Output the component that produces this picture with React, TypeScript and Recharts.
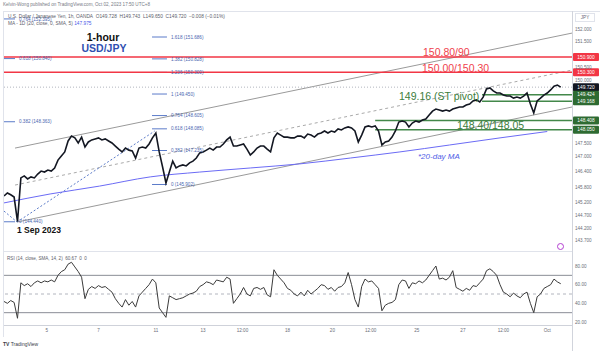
import { ComposedChart, Line, XAxis, YAxis, ReferenceLine } from "recharts"

// hourly closes sampled every 3 bars, 1 Sep -> 2 Oct 2023
const closes = [
  145.45, 145.57, 145.5, 145.41, 144.45, 146.16, 146.24, 146.12, 146.2, 146.16,
  146.31, 146.43, 146.39, 146.47, 146.43, 146.55, 146.86, 147.02, 147.18, 147.61,
  147.8, 147.73, 147.53, 147.76, 147.37, 147.57, 147.65, 147.69, 147.73, 147.65,
  147.69, 147.61, 147.53, 147.41, 147.29, 147.18, 147.33, 147.25, 147.22, 146.94,
  147.33, 147.37, 147.33, 147.49, 147.73, 147.92, 147.18, 146.59, 145.96, 146.39,
  146.82, 146.55, 146.63, 146.67, 146.63, 146.75, 146.82, 146.94, 147.14, 147.18,
  147.25, 147.33, 147.25, 147.37, 147.37, 147.49, 147.65, 147.76, 147.41, 147.41,
  147.45, 147.49, 147.29, 147.06, 147.18, 147.33, 147.41, 147.41, 147.29, 147.18,
  147.73, 147.92, 147.84, 147.76, 147.76, 147.73, 147.73, 147.8, 147.8, 147.73,
  147.88, 147.84, 147.76, 147.88, 147.92, 148.0, 147.92, 148.0, 147.96, 148.08,
  148.04, 148.12, 148.16, 148.12, 148.0, 147.57, 147.84, 148.16, 148.2, 148.16,
  148.2, 148.0, 147.45, 147.57, 147.61, 147.76, 148.0, 148.35, 148.39, 148.35,
  148.16, 148.31, 148.39, 148.35, 148.43, 148.47, 148.63, 148.78, 148.86, 148.82,
  148.78, 148.82, 148.78, 148.86, 148.9, 148.94, 148.94, 149.02, 149.06, 149.18,
  149.22, 149.14, 149.33, 149.65, 149.69, 149.57, 149.49, 149.49, 149.41, 149.37,
  149.37, 149.29, 149.33, 149.29, 149.37, 149.49, 149.06, 148.71, 149.18, 149.29,
  149.41, 149.49, 149.61, 149.76, 149.8, 149.72,
]

const rsiValues = [
  42, 40, 43, 41, 24, 62, 59, 61, 58, 62,
  64, 62, 64, 63, 65, 63, 70, 74, 76, 82,
  84, 79, 74, 68, 45, 55, 58, 56, 59, 57,
  58, 55, 52, 45, 40, 36, 44, 38, 42, 36,
  48, 52, 56, 60, 66, 62, 35, 30, 25, 48,
  46, 44, 45, 46, 48, 50, 51, 53, 58, 60,
  63, 62, 60, 65, 64, 63, 68, 66, 40, 45,
  50, 57, 50, 48, 56, 57, 55, 57, 49, 47,
  76, 70, 66, 62, 56, 54, 50, 48, 52, 48,
  54, 50, 53, 56, 60, 59, 55, 57, 53, 57,
  58, 62, 73, 60, 44, 36, 58, 66, 63, 64,
  60, 56, 32, 38, 40, 41, 44, 60, 65, 64,
  56, 62, 61, 64, 62, 65, 70, 75, 80, 66,
  67, 65, 68, 75, 57, 55, 53, 56, 54, 59,
  58, 62, 66, 75, 77, 74, 70, 60, 52, 50,
  47, 51, 48, 46, 50, 52, 40, 30, 47, 50,
  56, 58, 60, 66, 63, 61,
]

const BAR_HOURS = 3
const LAST_HOUR = 505

const timeTicks = [38, 84, 135, 177, 212, 252, 292, 326, 367, 408, 444, 483]
const timeLabels = ["5", "7", "11", "13", "12:00", "18", "20", "12:00", "25", "27", "12:00", "Oct"]

const priceTicks = [143.7, 144.2, 144.7, 145.2, 145.8, 146.4, 147, 147.5, 150, 150.5, 151.5, 152]
const rsiTicks = [20, 40, 60, 80]

// daily 20 SMA projected on the hourly chart
const maHours = [0, 41, 85, 130, 174, 219, 263, 308, 352, 396, 441, 483]
const maValues = [145.18, 145.53, 145.84, 146.2, 146.39, 146.55, 146.71, 146.94, 147.18, 147.45, 147.73, 147.98]

const fibLeftRatios = ["0.764", "0.618", "0.382", "0"]
const fibLeftPrices = [152.395, 150.84, 148.363, 144.44]
const fibRightRatios = ["1.618", "1.382", "1.236", "1", "0.764", "0.618", "0.382", "0"]
const fibRightPrices = [151.686, 150.828, 150.3, 149.45, 148.605, 148.085, 147.235, 145.902]

// trend channel anchors: [hour, price]
const channelUpper = [[9.8, 147.33], [505, 151.84]]
const channelMid = [[9.8, 145.88], [505, 150.39]]
const channelLower = [[11.6, 144.43], [505, 148.94]]
const fibTrend = [[0, 144.86], [11.6, 144.43], [134, 148.0]]

const resistanceLevels = [150.9, 150.3]
const pivotLevels = [149.424, 149.168]
const supportLevels = [148.408, 148.05]
const lastPrice = 149.72

const priceData = closes.map((close, i) => ({ h: i * BAR_HOURS, close }))
const rsiData = rsiValues.map((rsi, i) => ({ h: i * BAR_HOURS, rsi }))
const maData = maHours.map((h, i) => ({ h, ma: maValues[i] }))

const RED = "#f23645"
const GREEN_LINE = "#43884a"
const GREEN_TAG = "#2e6b32"
const FIB = "#5b7bc9"
const SMALL = 4.6

function AxisTag({ viewBox, text, bg }: any) {
  const x = viewBox.x + viewBox.width + 1
  const y = viewBox.y
  return (
    <g>
      <rect x={x} y={y - 4} width={26} height={8} fill={bg} rx={1} />
      <text x={x + 13} y={y} dy="0.35em" textAnchor="middle" fontSize={4.8} fill="#fff">
        {text}
      </text>
    </g>
  )
}

function seg(a: number[], b: number[]) {
  return [{ x: a[0], y: a[1] }, { x: b[0], y: b[1] }]
}

function Txt({ x, y, size, color, bold, italic, center, children }: any) {
  return (
    <div
      style={{
        position: "absolute",
        left: x,
        top: y,
        transform: center ? "translate(-50%, -50%)" : "translateY(-50%)",
        fontSize: size,
        color,
        fontWeight: bold ? 700 : 400,
        fontStyle: italic ? "italic" : "normal",
        whiteSpace: "nowrap",
        lineHeight: 1,
      }}
    >
      {children}
    </div>
  )
}

export default function App() {
  const rule = "#e0e3eb"
  return (
    <div
      style={{
        position: "absolute",
        left: 0,
        top: 0,
        width: 600,
        height: 351,
        background: "#fff",
        overflow: "hidden",
        fontFamily: "'Liberation Sans', Arial, sans-serif",
      }}
    >
      {/* pane frames */}
      <div style={{ position: "absolute", left: 3, top: 11, width: 597, height: 1, background: rule }} />
      <div style={{ position: "absolute", left: 3, top: 251, width: 569, height: 1, background: rule }} />
      <div style={{ position: "absolute", left: 3, top: 325, width: 569, height: 1, background: "#cfd2da" }} />
      <div style={{ position: "absolute", left: 3, top: 11, width: 1, height: 326, background: rule }} />
      <div style={{ position: "absolute", left: 572, top: 11, width: 1, height: 340, background: "#d1d4dc" }} />

      <div style={{ position: "absolute", left: 0, top: 0 }}>
        <ComposedChart width={600} height={252} data={priceData} margin={{ top: 11, right: 0, bottom: 1, left: 4 }}>
          <XAxis type="number" dataKey="h" domain={[0, LAST_HOUR]} hide allowDataOverflow />
          <YAxis
            orientation="right"
            width={28}
            domain={[143.294, 152.706]}
            ticks={priceTicks}
            interval={0}
            allowDataOverflow
            tickFormatter={(v: number) => v.toFixed(3)}
            tick={{ fontSize: SMALL, fill: "#6a6d78" }}
            tickSize={0}
            tickMargin={3}
            axisLine={false}
            tickLine={false}
          />

          <ReferenceLine segment={seg(channelUpper[0], channelUpper[1])} stroke="#9a9a9a" strokeWidth={1} />
          <ReferenceLine segment={seg(channelLower[0], channelLower[1])} stroke="#9a9a9a" strokeWidth={1} />
          <ReferenceLine segment={seg(channelMid[0], channelMid[1])} stroke="#aaaaaa" strokeDasharray="3 3" />
          <ReferenceLine segment={seg(fibTrend[0], fibTrend[1])} stroke={FIB} strokeDasharray="2 2" />
          <ReferenceLine segment={seg(fibTrend[1], fibTrend[2])} stroke={FIB} strokeDasharray="2 2" />

          {fibLeftPrices.map((p, i) => (
            <ReferenceLine
              key={"fl" + i}
              segment={[{ x: 0, y: p }, { x: 9.8, y: p }]}
              stroke={FIB}
              label={{ value: `${fibLeftRatios[i]} (${p.toFixed(3)})`, position: "right", offset: 4, fontSize: SMALL, fill: "#4a66b0" }}
            />
          ))}
          {fibRightPrices.map((p, i) => (
            <ReferenceLine
              key={"fr" + i}
              segment={[{ x: 131.6, y: p }, { x: 144.9, y: p }]}
              stroke={FIB}
              label={{ value: `${fibRightRatios[i]} (${p.toFixed(3)})`, position: "right", offset: 4, fontSize: SMALL, fill: "#4a66b0" }}
            />
          ))}

          <Line data={maData} dataKey="ma" type="monotone" stroke="#6b6bf5" strokeWidth={1} dot={false} isAnimationActive={false} />

          <ReferenceLine y={lastPrice} stroke="#b2b5be" strokeDasharray="1 2" label={<AxisTag text={lastPrice.toFixed(3)} bg="#131722" />} />

          {resistanceLevels.map((p) => (
            <ReferenceLine key={"r" + p} y={p} stroke={RED} strokeWidth={1.5} label={<AxisTag text={p.toFixed(3)} bg={RED} />} />
          ))}
          {pivotLevels.map((p) => (
            <ReferenceLine
              key={"p" + p}
              segment={[{ x: 425, y: p }, { x: LAST_HOUR, y: p }]}
              stroke={GREEN_LINE}
              strokeWidth={1.5}
              label={<AxisTag text={p.toFixed(3)} bg={GREEN_TAG} />}
            />
          ))}
          {supportLevels.map((p) => (
            <ReferenceLine
              key={"s" + p}
              segment={[{ x: 330, y: p }, { x: LAST_HOUR, y: p }]}
              stroke={GREEN_LINE}
              strokeWidth={1.5}
              label={<AxisTag text={p.toFixed(3)} bg={GREEN_TAG} />}
            />
          ))}

          <Line dataKey="close" type="linear" stroke="#131722" strokeWidth={1.6} dot={false} isAnimationActive={false} />
        </ComposedChart>
      </div>

      <div style={{ position: "absolute", left: 0, top: 251 }}>
        <ComposedChart width={600} height={100} data={rsiData} margin={{ top: 1, right: 0, bottom: 0, left: 4 }}>
          <XAxis
            type="number"
            dataKey="h"
            domain={[0, LAST_HOUR]}
            ticks={timeTicks}
            interval={0}
            allowDataOverflow
            tickFormatter={(v: number) => timeLabels[timeTicks.indexOf(v)]}
            height={26}
            tick={{ fontSize: SMALL, fill: "#6a6d78" }}
            tickSize={0}
            tickMargin={4}
            axisLine={false}
            tickLine={false}
          />
          <YAxis
            orientation="right"
            width={28}
            domain={[16.8, 95]}
            ticks={rsiTicks}
            interval={0}
            allowDataOverflow
            tickFormatter={(v: number) => v.toFixed(2)}
            tick={{ fontSize: SMALL, fill: "#6a6d78" }}
            tickSize={0}
            tickMargin={3}
            axisLine={false}
            tickLine={false}
          />
          <ReferenceLine y={70} stroke="#8a8d96" strokeWidth={1} />
          <ReferenceLine y={50} stroke="#b2b5be" strokeDasharray="3 3" />
          <ReferenceLine y={30} stroke="#8a8d96" strokeWidth={1} />
          <Line dataKey="rsi" type="linear" stroke="#3b3b3b" strokeWidth={1} dot={false} isAnimationActive={false} />
        </ComposedChart>
      </div>

      <Txt x={3} y={5} size={SMALL} color="#787b86">Kelvin-Wong published on TradingView.com, Oct 02, 2023 17:50 UTC+8</Txt>
      <Txt x={8} y={16.5} size={4.8} color="#5d606b">
        U.S. Dollar / Japanese Yen, 1h, OANDA&nbsp; O149.728&nbsp; H149.743&nbsp; L149.650&nbsp; C149.720&nbsp; −0.008 (−0.01%)
      </Txt>
      <Txt x={8} y={24} size={4.8} color="#5d606b">
        MA - 1D (20, close, 0, SMA, 5) <span style={{ color: "#4a5ae8" }}>147.975</span>
      </Txt>
      <div style={{ position: "absolute", left: 575, top: 13, width: 20, height: 9, border: "1px solid #e0e3eb", boxSizing: "border-box" }} />
      <Txt x={585} y={17.5} size={SMALL} color="#6a6d78" center>JPY</Txt>

      <Txt x={103} y={37} size={10.5} color="#111" bold center>1-hour</Txt>
      <Txt x={104} y={48} size={10.5} color="#2f4fb0" bold center>USD/JPY</Txt>

      <Txt x={423} y={52} size={10.5} color="#f03e4c">150.80/90</Txt>
      <Txt x={422} y={67.5} size={10.5} color="#f03e4c">150.00/150.30</Txt>
      <Txt x={399} y={96} size={10.5} color="#3c7d3c">149.16 (ST pivot)</Txt>
      <Txt x={457} y={124.5} size={10.5} color="#3c7d3c">148.40/148.05</Txt>
      <Txt x={418} y={157} size={8} color="#4f5ce6" italic>*20-day MA</Txt>
      <Txt x={17} y={230} size={8.5} color="#111" bold>1 Sep 2023</Txt>

      <Txt x={7} y={258.5} size={SMALL} color="#5d606b">RSI (14, close, SMA, 14, 2)&nbsp; 60.67&nbsp; 0&nbsp; 0</Txt>

      <div
        style={{
          position: "absolute",
          left: 557,
          top: 243,
          width: 7,
          height: 7,
          borderRadius: "50%",
          border: "1px solid #b33fd1",
          boxSizing: "border-box",
        }}
      />
      <Txt x={3} y={344} size={5} color="#3a3d46">
        <b>TV</b> TradingView
      </Txt>
    </div>
  )
}
